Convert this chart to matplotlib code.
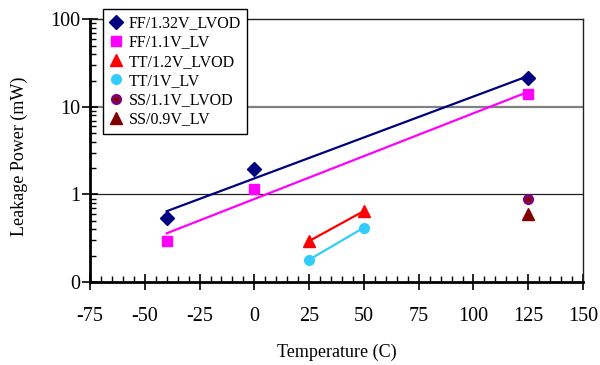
import numpy as np
import matplotlib
matplotlib.use("Agg")
import matplotlib.pyplot as plt
from matplotlib.ticker import FixedLocator, FuncFormatter, LogLocator, MultipleLocator, NullFormatter

plt.rcParams['font.family'] = ['Liberation Serif', 'DejaVu Serif']
plt.rcParams['axes.unicode_minus'] = False

# Data
ff132_t = [-40, 0, 125]
ff132_p = [0.535, 1.95, 21.3]
ff11_t = [-40, 0, 125]
ff11_p = [0.296, 1.15, 14.0]
tt12_t = [25, 50]
tt12_p = [0.294, 0.647]
tt1_t = [25, 50]
tt1_p = [0.18, 0.418]
ss11_t = [125]
ss11_p = [0.89]
ss09_t = [125]
ss09_p = [0.60]

labels = ["FF/1.32V_LVOD", "FF/1.1V_LV", "TT/1.2V_LVOD", "TT/1V_LV", "SS/1.1V_LVOD", "SS/0.9V_LV"]
x_ticks = [-75, -50, -25, 0, 25, 50, 75, 100, 125, 150]
y_ticks = [0.1, 1, 10, 100]

fig = plt.figure(figsize=(6.0, 3.65), dpi=100)
ax = fig.add_axes([0.15, 0.2274, 0.8217, 0.7192])
ax.set_yscale('log')
ax.set_xlim(-75, 150)
ax.set_ylim(0.1, 100)

def trend(ts, ps, color):
    ts = np.asarray(ts, float)
    c = np.polyfit(ts, np.log(ps), 1)
    xx = np.linspace(ts.min(), ts.max(), 100)
    ax.plot(xx, np.exp(np.polyval(c, xx)), color=color, lw=1.6, zorder=2)

# gridlines
ax.axhline(10, color='#808080', lw=1.6, zorder=1)
ax.axhline(1, color='#202020', lw=0.9, zorder=1)

trend(ff132_t, ff132_p, '#000080')
trend(ff11_t, ff11_p, '#FF00FF')
trend(tt12_t, tt12_p, '#FF0000')
trend(tt1_t, tt1_p, '#33CCFF')

h = []
h += ax.plot(ff132_t, ff132_p, ls='none', marker='D', ms=7, color='#000080', zorder=3)
h += ax.plot(ff11_t, ff11_p, ls='none', marker='s', ms=7, color='#FF00FF', zorder=3)
h += ax.plot(tt12_t, tt12_p, ls='none', marker='^', ms=8, color='#FF0000', zorder=3)
h += ax.plot(tt1_t, tt1_p, ls='none', marker='o', ms=7, color='#33CCFF', zorder=3)
h += ax.plot(ss11_t, ss11_p, ls='none', marker='o', ms=6, mfc='#800000', mec='#800080', mew=2, zorder=3)
h += ax.plot(ss09_t, ss09_p, ls='none', marker='^', ms=8, color='#800000', zorder=3)

# ticks
ax.xaxis.set_major_locator(FixedLocator(x_ticks))
ax.xaxis.set_minor_locator(MultipleLocator(5))
ax.yaxis.set_major_locator(FixedLocator(y_ticks))
ax.yaxis.set_major_formatter(FuncFormatter(lambda v, p: f"{v:.0f}"))
ax.yaxis.set_minor_locator(LogLocator(base=10, subs=np.arange(2, 10)))
ax.yaxis.set_minor_formatter(NullFormatter())
ax.tick_params(which='major', direction='inout', length=12, width=1.2, labelsize=14.5, colors='black')
ax.tick_params(which='minor', direction='in', length=4, width=1.0)
ax.tick_params(axis='y', which='major', pad=1)
ax.tick_params(axis='x', which='major', pad=12)

for s in ['left', 'bottom']:
    ax.spines[s].set_linewidth(2)
    ax.spines[s].set_color('black')
for s in ['top', 'right']:
    ax.spines[s].set_linewidth(1)
    ax.spines[s].set_color('#202020')

ax.set_xlabel("Temperature (C)", fontsize=13)
ax.xaxis.set_label_coords(0.5, -0.236)
ax.set_ylabel("Leakage Power (mW)", fontsize=13)
ax.yaxis.set_label_coords(-0.126, 0.48)

leg = fig.legend(h, labels, loc='upper left', bbox_to_anchor=(103/600, 1 - 9/365),
                 fontsize=11.5, frameon=True, fancybox=False, framealpha=1,
                 edgecolor='black', handlelength=0.8, handletextpad=0.4,
                 labelspacing=0.2, borderpad=0.4, borderaxespad=0)
leg.get_frame().set_linewidth(1)
leg.set_zorder(5)

fig.savefig("out.png", dpi=100)
